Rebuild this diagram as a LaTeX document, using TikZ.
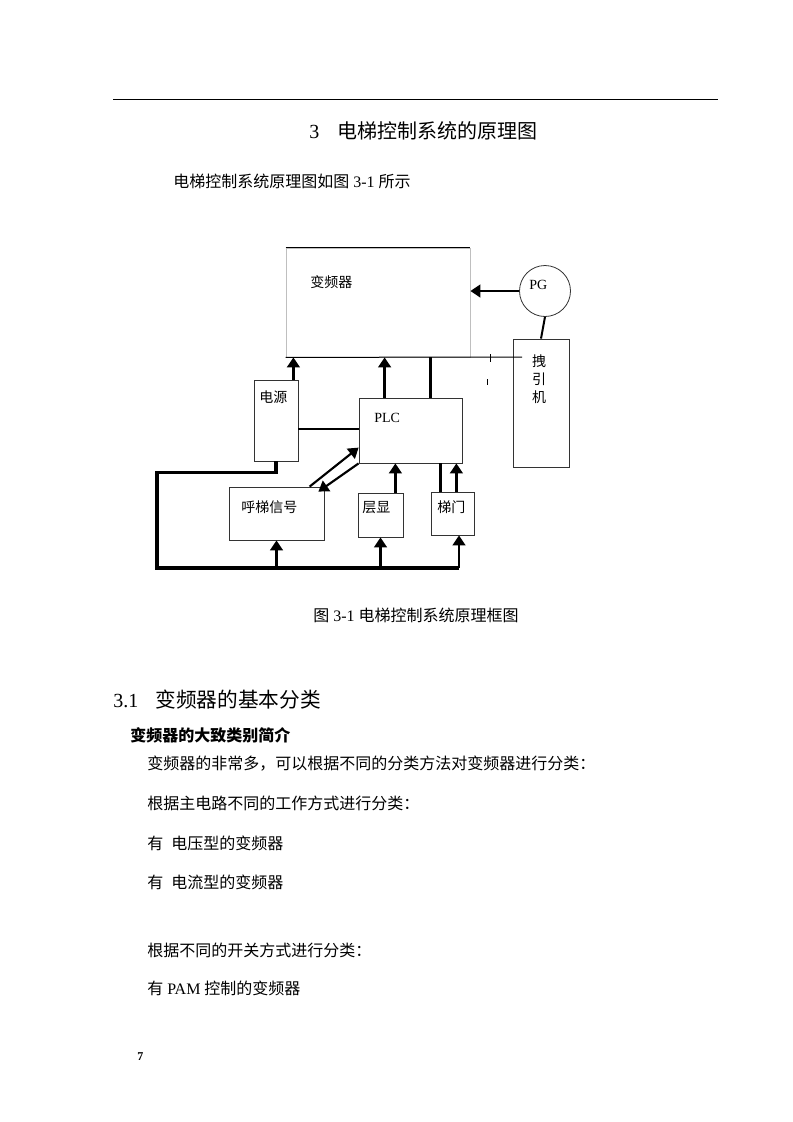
\documentclass[tikz,border=0pt]{standalone}
\usepackage{fontspec}
\setmainfont{Liberation Serif}
\newfontfamily\cjk{Noto Sans CJK SC}
\usepackage{tikz}
\usetikzlibrary{arrows.meta,calc,fit,positioning}
\tikzset{%
	block/.style = {draw=black!80, line width=0.6pt, rectangle, inner sep=0pt},
	lbl/.style   = {inner sep=0pt, anchor=west, font=\cjk\fontsize{10.5}{12}\selectfont},
	tag/.style   = {inner sep=0pt, anchor=west, font=\fontsize{10.5}{12}\selectfont},
	txt/.style   = {inner sep=0pt, anchor=west, font=\fontsize{12}{14}\selectfont},
	arrow/.style = {line width=2.2pt, -{Triangle[width=9.5pt,length=7.5pt]}},
	wire/.style  = {line width=2.2pt},
}

\begin{document}
\begin{tikzpicture}[x=0.75pt,y=-0.75pt]
	\path[fill=white,use as bounding box] (0,0) rectangle (793,1122);
	% page text
	\draw[line width=0.75pt] (113,99) -- (718,99);
	\node[txt, font=\fontsize{15}{18}\selectfont] (title) at (309,131) {3\hspace{14pt}{\cjk 电梯控制系统的原理图}};
	\node[txt] (intro) at (173,181) {{\cjk 电梯控制系统原理图如图} 3-1 {\cjk 所示}};

	% blocks
	\node[block, draw=black!25, fit={(286,248) (470,357)}] (vfd) {};
	\node[block, circle, minimum size=38.25pt] (pg) at (545,291) {};
	\node[block, fit={(513,339) (569,467)}] (motor) {};
	\node[block, fit={(254,380) (298,461)}] (psu) {};
	\node[block, fit={(359,398) (462,463)}] (plc) {};
	\node[block, fit={(229,487) (324,540)}] (call) {};
	\node[block, fit={(358,493) (403,537)}] (disp) {};
	\node[block, fit={(431,492) (474,535)}] (door) {};
	\node[lbl] (vfdlbl) at (310,282) {变频器};
	\node[tag] (pglbl) at (529,285) {PG};
	\node[lbl, anchor=center, align=center, font=\cjk\fontsize{10.5}{13.5}\selectfont] (motorlbl) at (539,379) {拽\\引\\机};
	\node[lbl] (psulbl) at (259,397) {电源};
	\node[tag] (plclbl) at (374,418) {PLC};
	\node[lbl] (calllbl) at (241,507) {呼梯信号};
	\node[lbl] (displbl) at (362,508) {层显};
	\node[lbl] (doorlbl) at (437,507) {梯门};

	% connections
	\draw[line width=0.75pt] (vfd.north west) -- (vfd.north east);
	\coordinate (tap) at (522,357);
	\draw[line width=0.75pt] (vfd.south west) -- (tap);
	\draw[line width=0.6pt] (490,354) -- (490,362);
	\draw[line width=0.6pt] (487,379) -- (487,385);
	\draw[arrow] (pg.west) -- (pg.west -| vfd.east);
	\draw[line width=1.5pt] (pg.south) -- (motor.north);
	\draw[arrow] ($(psu.north east)+(-5,0)$) coordinate (p1) -- (p1 |- vfd.south);
	\draw[arrow] ($(plc.north west)+(26,0)$) coordinate (p2) -- (p2 |- vfd.south);
	\draw[wire] ($(plc.north west)+(72,0)$) coordinate (p3) -- (p3 |- vfd.south);
	\draw[wire, line width=1.6pt] ($(plc.north west)+(0,31)$) coordinate (p4) -- (p4 -| psu.east);
	\draw[arrow, line width=1.6pt] ($(call.north west)+(81,0)$) -- ($(plc.north west)+(0,50)$);
	\draw[arrow, line width=1.6pt] (plc.south west) -- ($(call.north east)+(-6,5)$);
	\draw[arrow] ($(disp.north east)+(-8,0)$) coordinate (p5) -- (p5 |- plc.south);
	\draw[wire] ($(door.north west)+(10,0)$) coordinate (p6) -- (p6 |- plc.south);
	\draw[arrow] ($(door.north east)+(-18,0)$) coordinate (p7) -- (p7 |- plc.south);

	% supply bus
	\coordinate (busL) at (157,568);
	\coordinate (busR) at (459,568);
	\draw[wire, line width=2.4pt] (psu.south) -- ++(0,11) -| (busL) -- (busR);
	\draw[arrow] (busL -| call.south) -- (call.south);
	\draw[arrow] (busL -| disp.south) -- (disp.south);
	\draw[arrow] (busR) -- (busR |- door.south);

	% caption and section text
	\node[txt] (caption) at (313,615) {{\cjk 图} 3-1 {\cjk 电梯控制系统原理框图}};
	\node[txt, font=\fontsize{15}{18}\selectfont] (sec) at (113,700) {3.1\hspace{13pt}{\cjk\fontsize{15.5}{19}\selectfont 变频器的基本分类}};
	\node[txt] (subsec) at (130,735) {\cjk\bfseries 变频器的大致类别简介};
	\node[txt] (l1) at (147,764) {\cjk 变频器的非常多，可以根据不同的分类方法对变频器进行分类：};
	\node[txt] (l2) at (147,803) {\cjk 根据主电路不同的工作方式进行分类：};
	\node[txt] (l3) at (147,843) {{\cjk 有}\ \ {\cjk 电压型的变频器}};
	\node[txt] (l4) at (147,882) {{\cjk 有}\ \ {\cjk 电流型的变频器}};
	\node[txt] (l5) at (147,950) {\cjk 根据不同的开关方式进行分类：};
	\node[txt] (l6) at (147,988) {{\cjk 有} PAM {\cjk 控制的变频器}};
	\node[txt, font=\bfseries\fontsize{9}{11}\selectfont] (pageno) at (137,1057) {7};
\end{tikzpicture}
\end{document}
